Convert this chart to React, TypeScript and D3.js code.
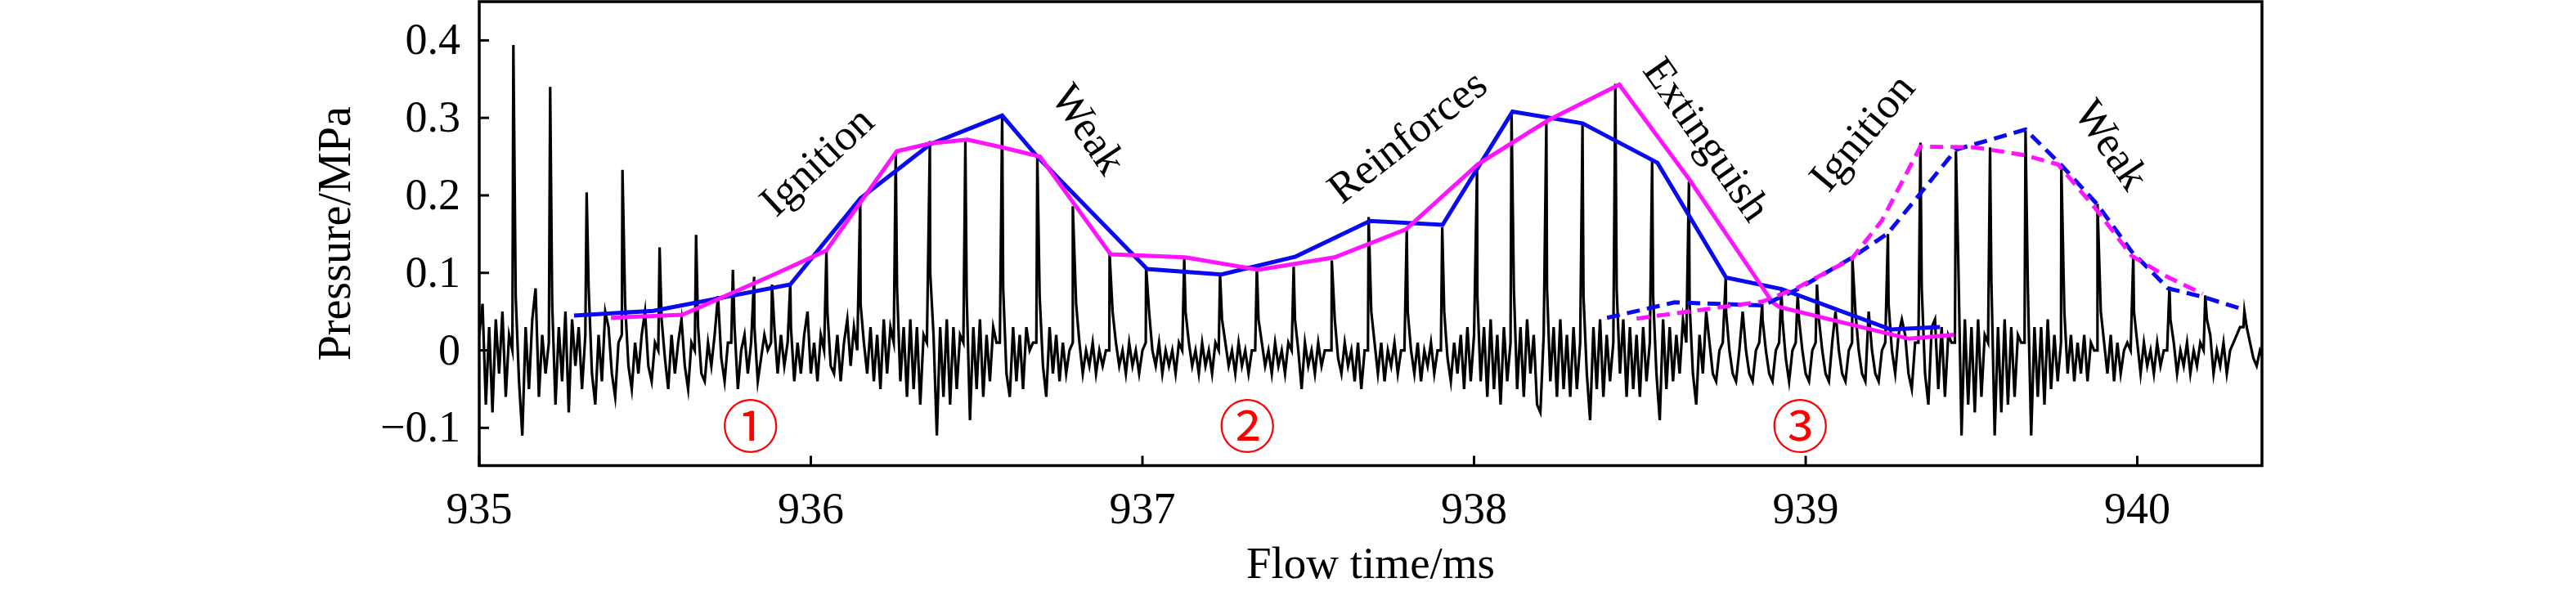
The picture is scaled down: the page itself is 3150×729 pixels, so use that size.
import React from 'react';
import * as d3 from 'd3';

// ---------- data ----------
const xTicks = [935, 936, 937, 938, 939, 940];
const yTicks = [-0.1, 0, 0.1, 0.2, 0.3, 0.4];
const yTickLabels = ['\u22120.1', '0', '0.1', '0.2', '0.3', '0.4'];

// black pressure trace: baseline samples (units of 0.01 MPa), one every 0.01 ms from 935.00
const baseStart = 935.0;
const baseStep = 0.01;
const baseline = [
  2, 6, -7, 3, -8, 4, -3, 5, -6, 2,
  0, 7, -4, -11, 3, -5, 4, 8, -6, 2,
  -3, 1, 6, -7, 3, -4, 5, -8, 4, -2,
  3, -5, 2, 8, -3, -7, 2, -4, 5, 3,
  -3, -6, 1, 2, 6, -2, -5, 1, -3, 2,
  5, -2, -4, 1, 0, 4, -1, -5, 2, -3,
  1, 4, -2, -5, 1, 0, 3, -3, -4, 1,
  -2, 2, 7, -1, -4, 1, 1, 3, -5, 0,
  2, -3, 1, 3, -4, -1, 2, 0, 1, 3,
  -3, 2, -2, 1, 3, -4, 1, -3, 2, 5,
  -3, 1, -4, 2, 0, 5, -2, -3, 2, -4,
  1, 4, -2, 3, 0, 6, 1, -3, 3, -4,
  2, -5, 4, -3, 3, 1, 8, -4, 3, -6,
  4, -5, 3, -7, 2, 1, 10, 2, -11, 3,
  -6, 4, -7, 3, -5, 2, 1, 7, -9, 3,
  -5, 4, -6, 2, -4, 3, 1, 1, 8, -3,
  -6, 3, -4, 2, -5, 3, 0, 1, 1, 7,
  -2, -6, 3, -3, 2, -4, 1, -3, 0, 1,
  6, 1, -3, 0, -2, 1, -3, 0, -2, 0,
  0, 5, 1, -2, 0, -3, 1, -2, 0, -3,
  0, 1, 5, 0, -2, 1, -3, 0, -2, 0,
  -3, 1, 0, 5, 1, -2, 0, -3, 1, -2,
  0, -3, 1, 0, 4, 1, -2, 0, -3, 1,
  -2, 0, -3, 0, 0, 4, 1, -2, 0, -3,
  1, -2, 0, -3, 1, 0, 4, 0, -5, 1,
  -2, 0, -3, 1, -2, 0, 0, 0, 4, -1,
  -3, 1, -2, 0, -4, 1, -5, 0, 0, 5,
  1, -3, 1, -4, 0, -2, 1, -3, 0, 0,
  5, 0, -3, 1, -4, 0, -2, 1, -3, 0,
  0, 5, -1, -4, 1, -3, 2, -5, 3, -4,
  2, 7, -4, 3, -6, 4, -5, 2, -7, 3,
  -4, 1, 8, -5, 3, -6, 4, -3, 2, -7,
  -8, 2, 8, -4, 3, -6, 4, -5, 2, -6,
  3, -5, 1, 7, -3, -9, 3, -5, 4, -6,
  2, -4, 1, 8, -3, 4, -6, 3, -5, 2,
  -6, 3, -4, 1, 7, -3, -9, 4, -5, 3,
  -4, 2, -3, 4, 1, 6, -3, -7, 2, -3,
  5, 1, -3, -4, 0, 1, 5, 0, -3, -4,
  0, 5, 0, -3, -4, 0, 1, 4, 0, -3,
  -4, 0, 1, 4, -1, -4, 0, 1, 4, 0,
  -3, -4, 0, 1, 4, 0, -3, -4, 1, 5,
  0, -3, -4, 0, 1, 5, 0, -3, -4, 5,
  0, -3, -4, 0, 1, 6, 0, -3, 2, 4,
  2, -3, -5, 1, 1, 8, -3, -7, 3, 4,
  -5, 3, -6, 2, 1, 1, 12, -11, 4, -7,
  3, -8, 4, -6, 2, 1, 9, -11, 3, -8,
  4, -7, 3, -6, 2, 1, 1, 8, -11, 3,
  -6, 3, -7, 4, -5, 2, -4, 1, 5, -3,
  2, -4, 1, -3, 2, -4, 1, 0, 0, 5,
  1, -3, 2, -4, 1, -3, 0, 1, 0, 5,
  1, -3, 1, -2, 0, -3, 1, -2, 0, 0,
  4, 1, -3, 0, -2, 1, -3, 0, -2, 1,
  0, 4, 2, -3, 0, -2, 1, -3, 0, 1,
  2, 3, 3, 3, 1, -1, -2, 0, -1, 0,
];

// spike peaks of the black trace
const spikeTimes = [
  935.103, 935.214, 935.324, 935.432, 935.544, 935.654, 935.765, 935.829, 935.883, 935.938,
  936.047, 936.149, 936.256, 936.359, 936.466, 936.577, 936.683, 936.790, 936.901, 937.011,
  937.126, 937.234, 937.345, 937.456, 937.571, 937.682, 937.797, 937.904, 938.009, 938.113,
  938.218, 938.327, 938.426, 938.537, 938.648, 938.759, 938.869, 938.927, 938.976, 939.034,
  939.141, 939.248, 939.346, 939.453, 939.556, 939.663, 939.771, 939.880, 939.988, 940.097,
  940.205, 940.323,
];
const spikePeaks = [
  0.394, 0.340, 0.204, 0.233, 0.133, 0.149, 0.104, 0.095, 0.085, 0.087,
  0.128, 0.198, 0.254, 0.270, 0.270, 0.304, 0.252, 0.186, 0.124, 0.108,
  0.118, 0.098, 0.108, 0.108, 0.116, 0.172, 0.155, 0.159, 0.233, 0.307,
  0.295, 0.291, 0.344, 0.244, 0.218, 0.094, 0.060, 0.077, 0.073, 0.085,
  0.117, 0.150, 0.268, 0.257, 0.262, 0.284, 0.239, 0.189, 0.123, 0.082,
  0.071, 0.051,
];

// blue solid envelope
const blueT = [935.286, 935.525, 935.938, 936.149, 936.360, 936.577, 936.683, 937.014, 937.238, 937.462, 937.686, 937.905, 938.116, 938.327, 938.553, 938.760, 938.928, 939.256, 939.405];
const blueP = [0.045, 0.051, 0.085, 0.196, 0.266, 0.303, 0.250, 0.105, 0.098, 0.121, 0.167, 0.162, 0.308, 0.293, 0.242, 0.094, 0.079, 0.027, 0.030];

// magenta solid envelope
const magT = [935.397, 935.613, 935.900, 936.047, 936.259, 936.359, 936.472, 936.577, 936.691, 936.904, 937.129, 937.350, 937.579, 937.794, 938.011, 938.224, 938.438, 938.650, 938.900, 938.920, 939.312, 939.447];
const magP = [0.042, 0.046, 0.100, 0.129, 0.257, 0.267, 0.272, 0.262, 0.250, 0.124, 0.120, 0.104, 0.120, 0.156, 0.240, 0.297, 0.343, 0.220, 0.062, 0.056, 0.015, 0.020];

// blue dashed envelope
const blueDT = [938.401, 938.605, 938.870, 938.976, 939.141, 939.248, 939.453, 939.663, 939.771, 939.878, 939.984, 940.093, 940.198, 940.325];
const blueDP = [0.042, 0.062, 0.058, 0.079, 0.120, 0.151, 0.259, 0.285, 0.239, 0.189, 0.127, 0.080, 0.069, 0.052];

// magenta dashed envelope
const magDT = [938.490, 938.870, 938.976, 939.138, 939.229, 939.346, 939.510, 939.659, 939.761, 939.876, 939.983, 940.090, 940.197];
const magDP = [0.041, 0.063, 0.081, 0.118, 0.167, 0.263, 0.262, 0.252, 0.240, 0.182, 0.122, 0.095, 0.073];

// phase annotations (data coordinates)
const phaseLabels = ['Ignition', 'Weak', 'Reinforces', 'Extinguish', 'Ignition', 'Weak'];
const phaseT = [936.016, 936.840, 937.797, 938.704, 939.168, 939.925];
const phaseP = [0.245, 0.286, 0.277, 0.273, 0.282, 0.266];
const phaseAngle = [-43, 56, -38, 55, -50, 56];

const stageLabels = ['\u2460', '\u2461', '\u2462'];
const stageT = [935.818, 937.316, 938.983];
const stageP = [-0.0934, -0.0934, -0.0934];

// ---------- chart ----------
const W = 3150;
const H = 729;
const X0 = 586, X1 = 2766, Y0 = 2, Y1 = 569.5;
const SERIF = "'Liberation Serif', 'Times New Roman', serif";

export default function App() {
  const x = d3.scaleLinear().domain([935, 940.376]).range([X0, X1]);
  const y = d3.scaleLinear().domain([-0.1487, 0.45]).range([Y1, Y0]);

  const trace: [number, number][] = baseline.map((b, i) => [baseStart + i * baseStep, b * 0.01] as [number, number]);
  spikeTimes.forEach((t, i) => trace.push([t, spikePeaks[i]]));
  trace.sort((a, b) => a[0] - b[0]);

  const line = d3.line<[number, number]>().x(d => x(d[0])).y(d => y(d[1]));
  const zip = (ts: number[], ps: number[]) => ts.map((t, i) => [t, ps[i]] as [number, number]);

  const blue = '#0a0af0';
  const mag = '#ff14ff';

  return (
    <svg width={W} height={H} style={{ position: 'absolute', left: 0, top: 0, background: '#fff' }}>
      <defs>
        <clipPath id="plot">
          <rect x={X0} y={Y0} width={X1 - X0} height={Y1 - Y0} />
        </clipPath>
      </defs>
      <rect x={0} y={0} width={W} height={H} fill="#fff" />

      <g clipPath="url(#plot)">
        <path d={line(trace) || ''} fill="none" stroke="#000" strokeWidth={3.2} strokeLinejoin="miter" strokeMiterlimit={10} />
        <path d={line(zip(blueT, blueP)) || ''} fill="none" stroke={blue} strokeWidth={5} />
        <path d={line(zip(magT, magP)) || ''} fill="none" stroke={mag} strokeWidth={5} />
        <path d={line(zip(blueDT, blueDP)) || ''} fill="none" stroke={blue} strokeWidth={5} strokeDasharray="16 9" />
        <path d={line(zip(magDT, magDP)) || ''} fill="none" stroke={mag} strokeWidth={5} strokeDasharray="16 9" />
      </g>

      {/* frame */}
      <rect x={X0} y={Y0} width={X1 - X0} height={Y1 - Y0} fill="none" stroke="#000" strokeWidth={3.5} />

      {/* y ticks */}
      {yTicks.map((v, i) => (
        <g key={'y' + i}>
          <line x1={X0} x2={X0 + 12} y1={y(v)} y2={y(v)} stroke="#000" strokeWidth={3} />
          <text x={X0 - 23} y={y(v) + 17} textAnchor="end" fontFamily={SERIF} fontSize={54}>{yTickLabels[i]}</text>
        </g>
      ))}
      {/* x ticks */}
      {xTicks.map((t, i) => (
        <g key={'x' + i}>
          <line x1={x(t)} x2={x(t)} y1={Y1} y2={Y1 - 12} stroke="#000" strokeWidth={3} />
          <text x={x(t)} y={640} textAnchor="middle" fontFamily={SERIF} fontSize={54}>{String(t)}</text>
        </g>
      ))}

      {/* axis titles */}
      <text x={(X0 + X1) / 2} y={707} textAnchor="middle" fontFamily={SERIF} fontSize={55}>Flow time/ms</text>
      <text transform={`translate(428, ${(Y0 + Y1) / 2}) rotate(-90)`} textAnchor="middle" fontFamily={SERIF} fontSize={56}>Pressure/MPa</text>

      {/* phase annotations */}
      {phaseLabels.map((s, i) => (
        <text key={'p' + i}
          transform={`translate(${x(phaseT[i])}, ${y(phaseP[i])}) rotate(${phaseAngle[i]})`}
          textAnchor="middle" dominantBaseline="central" fontFamily={SERIF} fontSize={53}>{s}</text>
      ))}

      {/* stage numbers */}
      {stageLabels.map((s, i) => (
        <text key={'s' + i} x={x(stageT[i])} y={y(stageP[i])}
          textAnchor="middle" dominantBaseline="central" fill="#ff0000"
          fontFamily="'Noto Sans CJK SC', 'DejaVu Sans', sans-serif" fontSize={70}>{s}</text>
      ))}
    </svg>
  );
}
